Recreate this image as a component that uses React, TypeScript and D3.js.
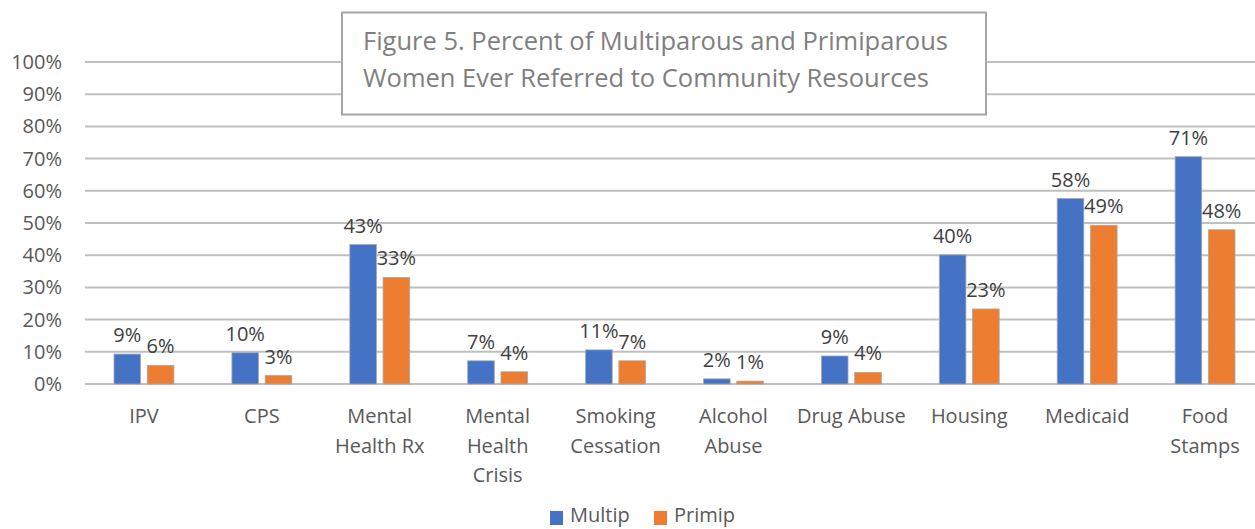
import React from "react";
import * as d3 from "d3";

const categories = ["IPV", "CPS", "Mental Health Rx", "Mental Health Crisis", "Smoking Cessation", "Alcohol Abuse", "Drug Abuse", "Housing", "Medicaid", "Food Stamps"];
const categoryLines = [["IPV"], ["CPS"], ["Mental", "Health Rx"], ["Mental", "Health", "Crisis"], ["Smoking", "Cessation"], ["Alcohol", "Abuse"], ["Drug Abuse"], ["Housing"], ["Medicaid"], ["Food", "Stamps"]];
const multip = [0.093, 0.097, 0.433, 0.072, 0.106, 0.016, 0.087, 0.401, 0.576, 0.706];
const primip = [0.058, 0.026, 0.331, 0.038, 0.072, 0.009, 0.036, 0.233, 0.493, 0.479];
const seriesNames = ["Multip", "Primip"];
const seriesColors = ["#4472c4", "#ed7d31"];
const yTicks = [0, 0.1, 0.2, 0.3, 0.4, 0.5, 0.6, 0.7, 0.8, 0.9, 1.0];
const titleLines = ["Figure 5. Percent of Multiparous and Primiparous", "Women Ever Referred to Community Resources"];

const W = 1255;
const H = 529;
const FONT = "'Open Sans', sans-serif";

export default function App() {
  const x = d3.scaleBand<string>().domain(categories).range([85, 85 + 117.9 * 10]).paddingInner(0).paddingOuter(0);
  const inner = d3.scaleBand<string>().domain(seriesNames).range([29, x.bandwidth() - 29]).paddingInner(0.2);
  const y = d3.scaleLinear().domain([0, 1]).range([384, 62]);
  const fmt = d3.format(".0%");
  const series = [multip, primip];

  return (
    <svg width={W} height={H} style={{ position: "absolute", left: 0, top: 0, background: "#fff" }} fontFamily={FONT}>
      <rect x={0} y={0} width={W} height={H} fill="#fff" />
      {yTicks.map((t) => (
        <g key={t}>
          <line x1={85} x2={W} y1={y(t)} y2={y(t)} stroke="#bfbfbf" strokeWidth={2} />
          <text x={62} y={y(t) + 7} textAnchor="end" fontSize={20} fill="#595959">{fmt(t)}</text>
        </g>
      ))}
      {categories.map((c, i) => (
        <g key={c}>
          {series.map((vals, s) => {
            const bx = (x(c) as number) + (inner(seriesNames[s]) as number);
            const bw = inner.bandwidth();
            return (
              <g key={s}>
                <rect x={bx} y={y(vals[i])} width={bw} height={y(0) - y(vals[i])} fill={seriesColors[s]} stroke="#a9a9a9" strokeWidth={0.8} />
                <text x={bx + bw / 2} y={y(vals[i]) - 12} textAnchor="middle" fontSize={20} fill="#404040">{fmt(vals[i])}</text>
              </g>
            );
          })}
          <text textAnchor="middle" fontSize={20} fill="#595959">
            {categoryLines[i].map((ln, k) => (
              <tspan key={k} x={(x(c) as number) + x.bandwidth() / 2} y={423 + k * 29.5}>{ln}</tspan>
            ))}
          </text>
        </g>
      ))}
      <rect x={342} y={12.5} width={644} height={102} fill="#fff" stroke="#a6a6a6" strokeWidth={2} />
      {titleLines.map((t, k) => (
        <text key={k} x={363} y={50 + k * 37} fontSize={25.5} fill="#7f7f7f">{t}</text>
      ))}
      {seriesNames.map((n, s) => (
        <g key={n}>
          <rect x={550 + s * 104} y={511} width={13} height={14} fill={seriesColors[s]} />
          <text x={570 + s * 104} y={522} fontSize={20} fill="#595959">{n}</text>
        </g>
      ))}
    </svg>
  );
}
